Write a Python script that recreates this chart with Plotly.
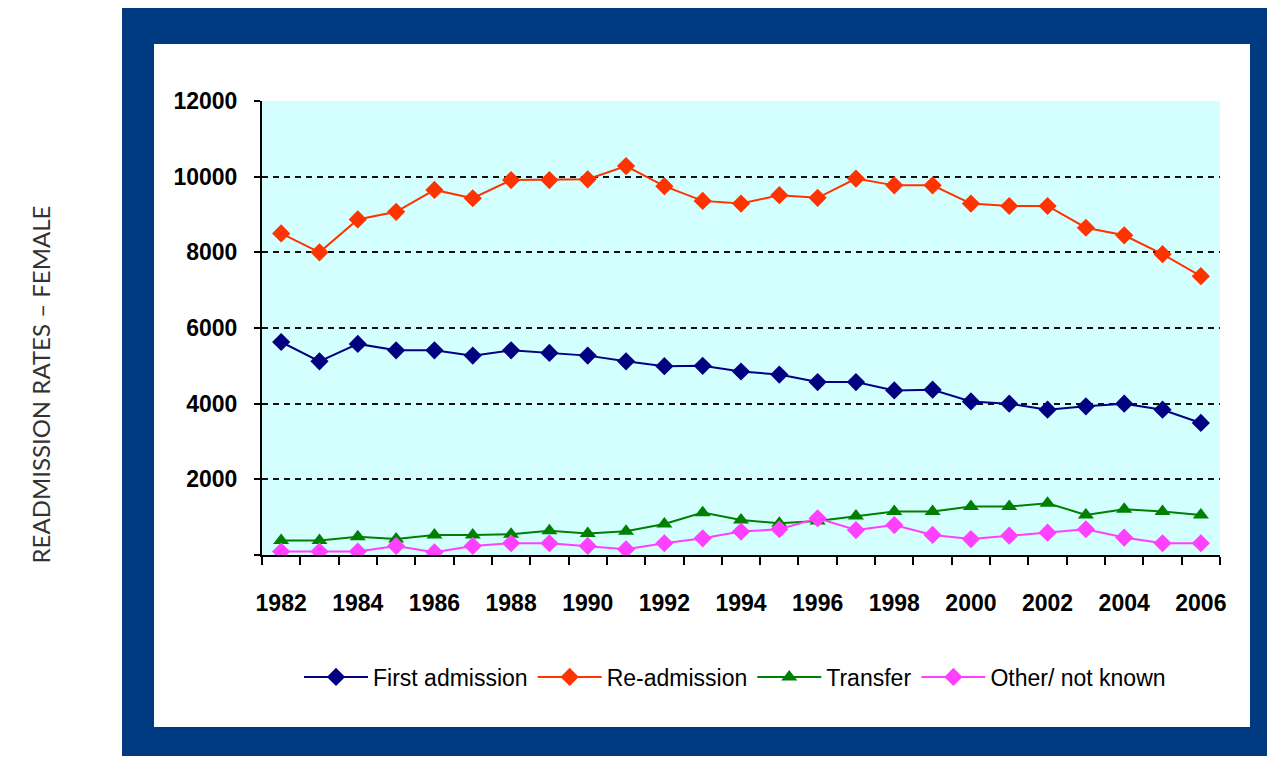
import plotly.graph_objects as go

years = list(range(1982, 2007))
first_admission = [5630, 5120, 5580, 5410, 5410, 5270, 5410, 5340, 5270, 5120, 4990,
                   5000, 4850, 4770, 4570, 4570, 4350, 4370, 4060, 4000, 3840, 3930, 4000, 3840, 3490]
re_admission = [8500, 8000, 8870, 9070, 9650, 9430, 9910, 9910, 9930, 10280, 9750,
                9360, 9290, 9510, 9440, 9950, 9770, 9770, 9290, 9225, 9225, 8650, 8450, 7950, 7370]
transfer = [380, 380, 480, 420, 530, 530, 550, 640, 570, 630, 820,
            1120, 925, 840, 900, 1030, 1150, 1150, 1280, 1280, 1370, 1060, 1210, 1150, 1060]
other = [90, 90, 90, 240, 70, 240, 310, 310, 240, 150, 310,
         440, 620, 680, 970, 660, 790, 530, 420, 510, 590, 680, 460, 310, 310]
label_years = list(range(1982, 2007, 2))
y_ticks = [0, 2000, 4000, 6000, 8000, 10000, 12000]
y_labels = ["", "2000", "4000", "6000", "8000", "10000", "12000"]

series = [
    ("First admission", first_admission, "#000080", "diamond"),
    ("Re-admission", re_admission, "#FF3300", "diamond"),
    ("Transfer", transfer, "#008000", "triangle-up"),
    ("Other/ not known", other, "#FF40FF", "diamond"),
]

fig = go.Figure()
for name, vals, col, sym in series:
    fig.add_trace(go.Scatter(
        x=years, y=vals, name=name, mode="lines+markers",
        line=dict(color=col, width=2),
        marker=dict(symbol=sym, size=14, color=col),
    ))

# target pixel geometry of the plot area (page coords)
PX0, PX1, PY0, PY1 = 262, 1220, 101, 555
OFF = 8  # page body offset


def px(x):
    return (x - PX0) / (PX1 - PX0)


def py(y):
    return (PY1 - y) / (PY1 - PY0)


fig.add_shape(type="rect", xref="paper", yref="paper",
              x0=px(122), x1=px(1272), y0=py(756), y1=py(8),
              fillcolor="#003A80", line=dict(width=0), layer="below")
fig.add_shape(type="rect", xref="paper", yref="paper",
              x0=px(154), x1=px(1250), y0=py(727), y1=py(44),
              fillcolor="white", line=dict(width=0), layer="below")
fig.add_shape(type="rect", xref="paper", yref="paper",
              x0=0, x1=1, y0=0, y1=1,
              fillcolor="#D4FFFF", line=dict(width=0), layer="below")

fig.add_annotation(text="READMISSION RATES – FEMALE", xref="paper", yref="paper",
                   x=px(23), y=py(385),
                   textangle=-90, showarrow=False,
                   font=dict(family="Lato, DejaVu Sans", size=24, color="#333333"))

fig.update_layout(
    width=1275, height=759,
    margin=dict(l=PX0 - OFF, r=1275 - PX1 + OFF, t=PY0 - OFF, b=759 - PY1 + OFF, pad=0),
    paper_bgcolor="white",
    plot_bgcolor="rgba(0,0,0,0)",
    showlegend=True,
    legend=dict(orientation="h", x=px(735), xanchor="center", y=py(677), yanchor="middle",
                font=dict(family="Liberation Sans, Arial", size=23, color="black"),
                bgcolor="rgba(0,0,0,0)", itemwidth=64, tracegroupgap=0),
    xaxis=dict(
        range=[1981.5, 2006.5], tickmode="array", tickvals=label_years,
        ticktext=[str(y) for y in label_years], ticks="", showgrid=False,
        showline=True, linecolor="black", linewidth=2, zeroline=False,
        tickfont=dict(family="Liberation Sans, Arial", size=23, color="black", weight="bold"),
        ticklabelstandoff=26,
        minor=dict(tick0=1981.5, dtick=1, ticks="outside", ticklen=8,
                   tickcolor="black", tickwidth=2, showgrid=False),
    ),
    yaxis=dict(
        range=[0, 12000], tickmode="array", tickvals=y_ticks, ticktext=y_labels,
        ticks="outside", ticklen=6, tickcolor="black", tickwidth=2,
        showline=True, linecolor="black", linewidth=2, zeroline=False,
        showgrid=True, gridcolor="#111111", griddash="6px,5px", gridwidth=2,
        tickfont=dict(family="Liberation Sans, Arial", size=23, color="black", weight="bold"),
        ticklabelstandoff=12,
    ),
)

fig.write_html("out.html")
